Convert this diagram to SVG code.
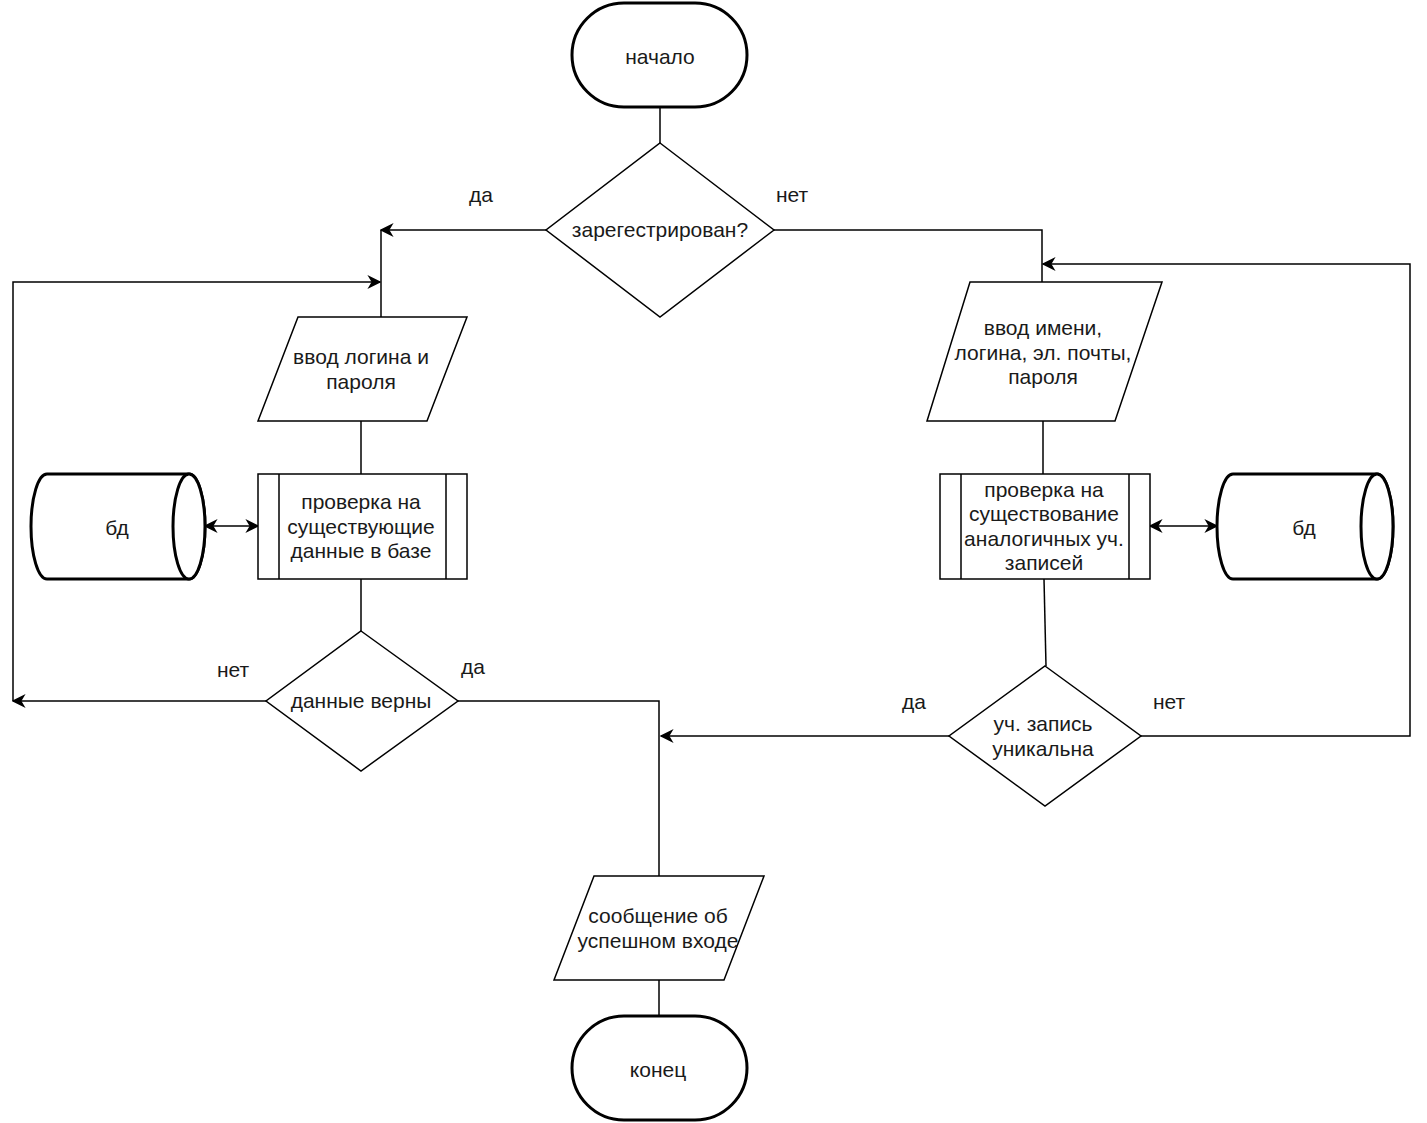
<svg xmlns="http://www.w3.org/2000/svg" width="1427" height="1123" viewBox="0 0 1427 1123">
<style>
text{font-family:"Liberation Sans",Arial,sans-serif;font-size:21px;fill:#1a1a1a;text-anchor:middle;dominant-baseline:central}
.s{fill:#fff;stroke:#000;stroke-width:1.5}
.t{fill:#fff;stroke:#000;stroke-width:3}
.c{fill:none;stroke:#000;stroke-width:1.5}
</style>
<defs>
<marker id="a" viewBox="0 0 10 10" refX="9" refY="5" markerWidth="14" markerHeight="14" markerUnits="userSpaceOnUse" orient="auto-start-reverse">
<path d="M0,0 L10,5 L0,10 L3,5 Z" fill="#000"/>
</marker>
</defs>
<g id="connectors">
<path class="c" d="M660,107 V143"/>
<path class="c" d="M546,230 H381" marker-end="url(#a)"/>
<path class="c" d="M381,230 V317"/>
<path class="c" d="M13,701 V282 H380" marker-end="url(#a)"/>
<path class="c" d="M774,230 L1042,230 V282"/>
<path class="c" d="M361,421 V474"/>
<path class="c" d="M205,526 H258" marker-start="url(#a)" marker-end="url(#a)"/>
<path class="c" d="M361,579 V631"/>
<path class="c" d="M266,701 H13" marker-end="url(#a)"/>
<path class="c" d="M458,701 H659 V876"/>
<path class="c" d="M1043,421 V474"/>
<path class="c" d="M1150,526 H1217" marker-start="url(#a)" marker-end="url(#a)"/>
<path class="c" d="M1044,579 L1046,666"/>
<path class="c" d="M949,736 H661" marker-end="url(#a)"/>
<path class="c" d="M1141,736 H1410 V264 H1043" marker-end="url(#a)"/>
<path class="c" d="M659,980 V1016"/>
</g>
<g id="start"><rect class="t" x="572" y="3" width="175" height="104" rx="52" ry="52"/><text x="660" y="56">начало</text></g>
<g id="d1"><path class="s" d="M660,143 L774,230 L660,317 L546,230 Z"/><text x="660" y="229">зарегестрирован?</text></g>
<g id="l-yes"><text x="481" y="194">да</text></g>
<g id="l-no"><text x="792" y="194">нет</text></g>
<g id="in1"><path class="s" d="M298,317 L467,317 L427,421 L258,421 Z"/><text x="361" y="356">ввод логина и</text><text x="361" y="381">пароля</text></g>
<g id="p1"><rect class="s" x="258" y="474" width="209" height="105"/><path class="c" d="M279,474 V579 M446,474 V579"/><text x="361" y="501">проверка на</text><text x="361" y="526">существующие</text><text x="361" y="550">данные в базе</text></g>
<g id="db1"><path class="t" d="M47,474 L189,474 A16,52.5 0 0 1 189,579 L47,579 A16,52.5 0 0 1 47,474 Z"/><ellipse class="t" cx="189" cy="526.5" rx="16" ry="52.5"/><text x="117" y="527">бд</text></g>
<g id="d2"><path class="s" d="M361,631 L458,701 L361,771 L266,701 Z"/><text x="361" y="700">данные верны</text></g>
<g id="l2no"><text x="233" y="669">нет</text></g>
<g id="l2yes"><text x="473" y="666">да</text></g>
<g id="in2"><path class="s" d="M970,282 L1162,282 L1115,421 L927,421 Z"/><text x="1043" y="327">ввод имени,</text><text x="1043" y="352">логина, эл. почты,</text><text x="1043" y="376">пароля</text></g>
<g id="p2"><rect class="s" x="940" y="474" width="210" height="105"/><path class="c" d="M961,474 V579 M1129,474 V579"/><text x="1044" y="489">проверка на</text><text x="1044" y="513">существование</text><text x="1044" y="538">аналогичных уч.</text><text x="1044" y="562">записей</text></g>
<g id="db2"><path class="t" d="M1233,474 L1377,474 A16,52.5 0 0 1 1377,579 L1233,579 A16,52.5 0 0 1 1233,474 Z"/><ellipse class="t" cx="1377" cy="526.5" rx="16" ry="52.5"/><text x="1304" y="527">бд</text></g>
<g id="d3"><path class="s" d="M1045,666 L1141,736 L1045,806 L949,736 Z"/><text x="1043" y="723">уч. запись</text><text x="1043" y="748">уникальна</text></g>
<g id="l3yes"><text x="914" y="701">да</text></g>
<g id="l3no"><text x="1169" y="701">нет</text></g>
<g id="out"><path class="s" d="M594,876 L764,876 L724,980 L554,980 Z"/><text x="658" y="915">сообщение об</text><text x="658" y="940">успешном входе</text></g>
<g id="end"><rect class="t" x="572" y="1016" width="175" height="104" rx="52" ry="52"/><text x="658" y="1069">конец</text></g>
</svg>
